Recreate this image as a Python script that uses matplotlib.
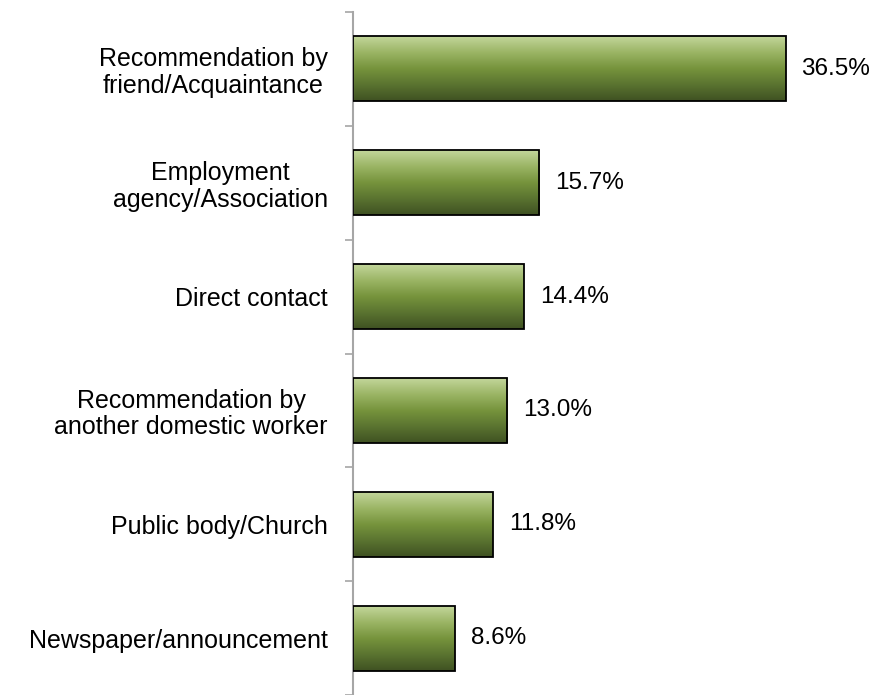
import matplotlib.pyplot as plt
import numpy as np
from matplotlib.colors import LinearSegmentedColormap
from matplotlib.patches import Rectangle

plt.rcParams['font.family'] = ['Liberation Sans', 'DejaVu Sans']

categories = ["Recommendation by\nfriend/Acquaintance",
              "Employment\nagency/Association",
              "Direct contact",
              "Recommendation by\nanother domestic worker",
              "Public body/Church",
              "Newspaper/announcement"]
values = [36.5, 15.7, 14.4, 13.0, 11.8, 8.6]
labels = ["36.5%", "15.7%", "14.4%", "13.0%", "11.8%", "8.6%"]

# light green at the top of each bar fading to dark olive at the bottom
green = LinearSegmentedColormap.from_list(
    "green", ["#c3d69b", "#9bb565", "#76933c", "#5a7330", "#3f5122"])
grad = np.linspace(0, 1, 256).reshape(-1, 1)

fig = plt.figure(figsize=(8.79, 6.95), dpi=100)
ax = fig.add_axes([353 / 879, 0.0, 474 / 879, 1 - 12 / 695])

n = len(values)
pos = np.arange(n)
h = 0.57

for y, v, lab in zip(pos, values, labels):
    ax.imshow(grad, cmap=green, aspect="auto", interpolation="bilinear",
              extent=[0, v, y + h / 2, y - h / 2], zorder=2)
    ax.add_patch(Rectangle((0, y - h / 2), v, h, fill=False,
                           edgecolor="black", linewidth=1.3, zorder=3))
    ax.text(v + 1.35, y, lab, va="center", ha="left", fontsize=17.5)

ax.set_xlim(0, 40)
ax.set_ylim(n - 0.5, -0.5)

ax.set_yticks(pos)
ax.set_yticklabels(categories, fontsize=18, linespacing=1.12)
for t in ax.get_yticklabels():
    t.set_multialignment("center")
ax.tick_params(axis="y", length=0, pad=18)
ax.set_yticks(np.arange(n + 1) - 0.5, minor=True)
ax.tick_params(axis="y", which="minor", length=6, width=1.2, color="#a6a6a6")
ax.set_xticks([])

for s in ["top", "right", "bottom"]:
    ax.spines[s].set_visible(False)
ax.spines["left"].set_color("#a6a6a6")
ax.spines["left"].set_linewidth(1.5)

fig.savefig("out.png", dpi=100)
